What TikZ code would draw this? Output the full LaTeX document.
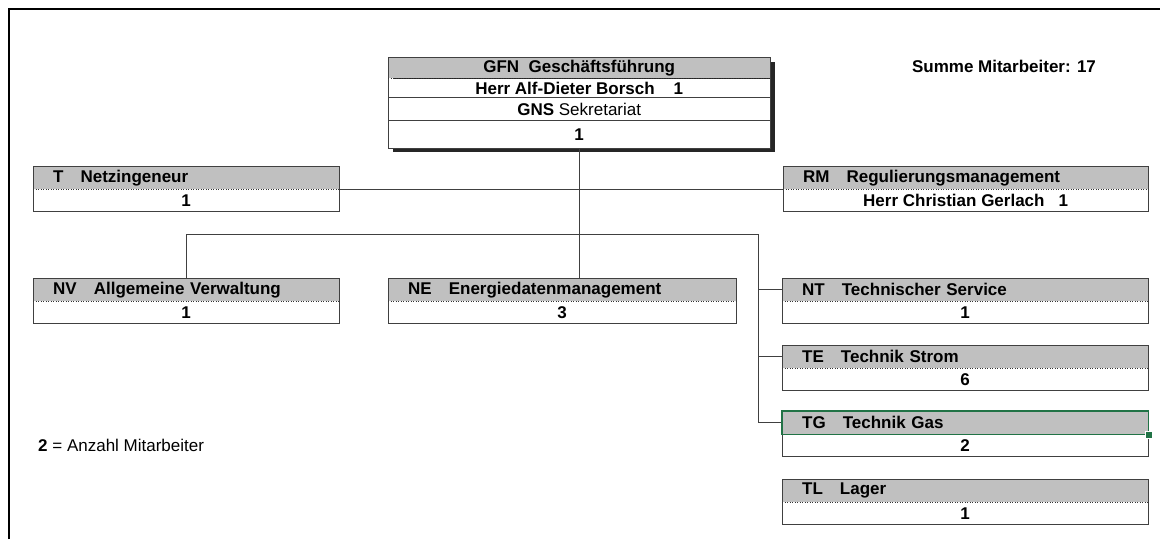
\documentclass[tikz,border=0pt]{standalone}
\usepackage{fontspec}
\setmainfont{Liberation Sans}
\usetikzlibrary{positioning}
\definecolor{kopfgrau}{HTML}{C0C0C0}
\definecolor{rahmengrau}{HTML}{404040}
\definecolor{auswahlgruen}{HTML}{217346}

\begin{document}
\begin{tikzpicture}[x=1pt,y=-1pt,
		every node/.style={font=\fontsize{17}{20}\selectfont\bfseries, inner sep=0pt},
		kopf/.style={anchor=north west, fill=kopfgrau, minimum height=23pt, text width=#1, inner xsep=20pt, align=left},
		rumpf/.style={fill=white, minimum width=#1, minimum height=22pt},
		rahmen/.style={draw=rahmengrau, line width=0.9pt},
		punkt/.style={draw=black!80, line width=1pt, dash pattern=on 1pt off 1.5pt},
		linie/.style={draw=rahmengrau, line width=0.9pt},
		auswahl/.style={draw=auswahlgruen, line width=1.6pt},
		griff/.style={fill=auswahlgruen, draw=white, line width=0.6pt, minimum size=7pt}]
		\useasboundingbox (0,0) rectangle (1160,539);
		\draw [black, line width=1.5pt] (9,539) -- (9,9) -- (1160,9);
		% Geschaeftsfuehrung mit Schatten
		\fill [black!85] (393,62) rectangle (775,152);
		\node [anchor=north west, fill=kopfgrau, minimum width=382pt, minimum height=21pt] (gfn) at (388,57) {GFN~~Geschäftsführung};
		\node [rumpf=382pt, minimum height=19pt, below=0pt of gfn] (gfn-l) {Herr Alf-Dieter Borsch~~~~1};
		\node [rumpf=382pt, below=0pt of gfn-l] (gns) {GNS \mdseries Sekretariat};
		\node [rumpf=382pt, minimum height=28pt, below=0pt of gns] (gns-z) {1};
		\draw [rahmen] (gfn.north west) rectangle (gns-z.south east);
		\draw [punkt] (gfn.south west) -- (gfn.south east);
		\draw [rahmen] (gfn-l.south west) -- (gfn-l.south east);
		\draw [rahmen] (gns.south west) -- (gns.south east);
		\node (summe) at (1004,66) {Summe Mitarbeiter: 17};
		% Stabsstellen
		\node [kopf=266pt] (t) at (33,166) {T~~~Netzingeneur};
		\node [rumpf=306pt, below=0pt of t] (t-z) {1};
		\node [kopf=325pt] (rm) at (783,166) {RM~~~Regulierungsmanagement};
		\node [rumpf=365pt, below=0pt of rm] (rm-z) {Herr Christian Gerlach~~~1};
		% Abteilungen
		\node [kopf=266pt] (nv) at (33,278) {NV~~~Allgemeine Verwaltung};
		\node [rumpf=306pt, below=0pt of nv] (nv-z) {1};
		\node [kopf=308pt] (ne) at (388,278) {NE~~~Energiedatenmanagement};
		\node [rumpf=348pt, below=0pt of ne] (ne-z) {3};
		\node [kopf=326pt] (nt) at (782,278) {NT~~~Technischer Service};
		\node [rumpf=366pt, below=0pt of nt] (nt-z) {1};
		\node [kopf=326pt] (te) at (782,345) {TE~~~Technik Strom};
		\node [rumpf=366pt, below=0pt of te] (te-z) {6};
		\node [kopf=326pt] (tg) at (782,411) {TG~~~Technik Gas};
		\node [rumpf=366pt, below=0pt of tg] (tg-z) {2};
		\node [kopf=326pt] (tl) at (782,479) {TL~~~Lager};
		\node [rumpf=366pt, below=0pt of tl] (tl-z) {1};
		\foreach \k in {t,rm,nv,ne,nt,te,tg,tl} {
			\draw [rahmen] (\k.north west) rectangle (\k-z.south east);
			\draw [punkt] (\k.south west) -- (\k.south east);
		}
		% Verbindungen
		\coordinate (verteil) at (758,234);
		\draw [linie] (gns-z.south) -- (gns-z.south |- ne.north);
		\draw [linie] (t.south east) -- (rm.south west);
		\draw [linie] (nv.north) |- (verteil) |- (tg.west);
		\draw [linie] (verteil |- nt.west) -- (nt.west);
		\draw [linie] (verteil |- te.west) -- (te.west);
		% Auswahl
		\draw [auswahl] (tg.north west) rectangle (tg.south east);
		\node [griff] (tg-griff) at (tg.south east) {};
		\node [anchor=west] (legende) at (38,445) {2 \mdseries= Anzahl Mitarbeiter};
\end{tikzpicture}
\end{document}
